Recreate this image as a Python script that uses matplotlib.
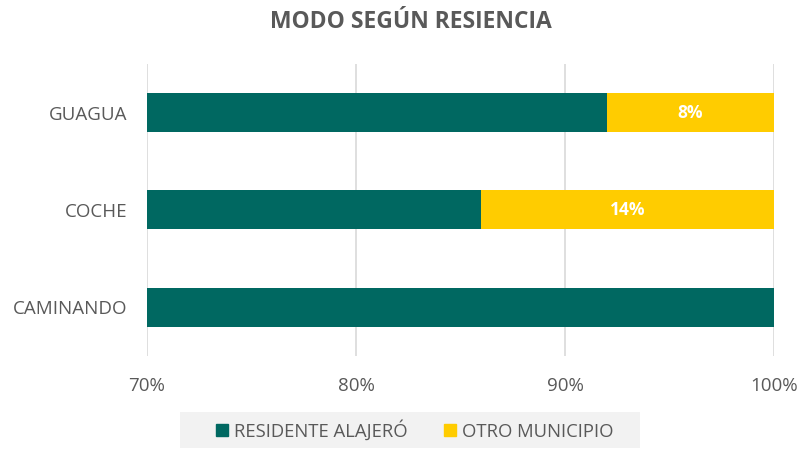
import matplotlib.pyplot as plt
from matplotlib.patches import Patch, Rectangle

plt.rcParams['font.family'] = ['Open Sans', 'DejaVu Sans']

categories = ['CAMINANDO', 'COCHE', 'GUAGUA']
residente = [100, 86, 92]
otro = [0, 14, 8]
otro_labels = ['', '14%', '8%']

teal = '#006861'
yellow = '#FFCC00'
grey = '#595959'

fig = plt.figure(figsize=(8.01, 4.5), dpi=100)
ax = fig.add_axes([0.1835, 0.209, 0.7828, 0.649])

y = range(len(categories))
ax.barh(y, residente, height=0.4, color=teal, zorder=3)
ax.barh(y, otro, left=residente, height=0.4, color=yellow, zorder=3)

for i, (r, o, lab) in enumerate(zip(residente, otro, otro_labels)):
    if lab:
        ax.text(r + o / 2, i, lab, ha='center', va='center', color='white',
                fontsize=12.5, fontweight='bold', zorder=4)

ax.set_xlim(70, 100)
ax.set_ylim(-0.5, 2.5)
ax.set_xticks([70, 80, 90, 100])
ax.set_xticklabels(['70%', '80%', '90%', '100%'])
ax.set_yticks(list(y))
ax.set_yticklabels(categories)
ax.tick_params(axis='both', length=0, labelsize=13.5, labelcolor=grey)
ax.tick_params(axis='x', pad=15)
ax.tick_params(axis='y', pad=14)
ax.grid(axis='x', color='#D9D9D9', linewidth=1.2, zorder=0)
for s in ax.spines.values():
    s.set_visible(False)

fig.suptitle('MODO SEGÚN RESIENCIA', x=0.513, y=0.978, fontsize=16.5,
             fontweight='bold', color=grey)

# legend background box
fig.patches.append(Rectangle((0.2247, 0.0044), 0.5743, 0.08, transform=fig.transFigure,
                             facecolor='#F2F2F2', edgecolor='none', zorder=0))

handles = [Patch(color=teal, label='RESIDENTE ALAJERÓ'),
           Patch(color=yellow, label='OTRO MUNICIPIO')]
fig.legend(handles=handles, loc='center', bbox_to_anchor=(0.518, 0.044), ncol=2,
           frameon=False, fontsize=13.3, handlelength=0.65, handleheight=0.65,
           handletextpad=0.3, columnspacing=2.0, labelcolor=grey)

fig.savefig('out.png', dpi=100)
